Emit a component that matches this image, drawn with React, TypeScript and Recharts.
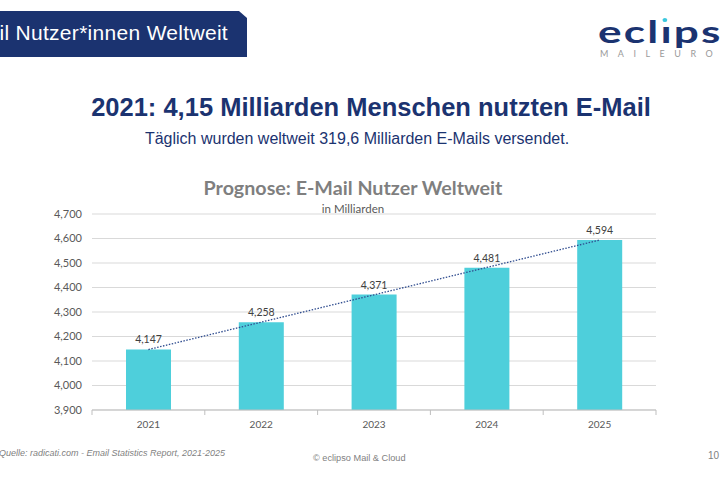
import React from 'react'
import {
  ComposedChart, Bar, Line, XAxis, YAxis, CartesianGrid, LabelList,
} from 'recharts'

const years = ['2021', '2022', '2023', '2024', '2025']
const users = [4147, 4258, 4371, 4481, 4594]
const yTicks = [3900, 4000, 4100, 4200, 4300, 4400, 4500, 4600, 4700]

// linear trend like Excel's trendline
const n = users.length
const meanX = (n - 1) / 2
const meanY = users.reduce((a, b) => a + b, 0) / n
const slope =
  users.reduce((s, v, i) => s + (i - meanX) * (v - meanY), 0) /
  users.reduce((s, _, i) => s + (i - meanX) ** 2, 0)

const data = years.map((year, i) => ({
  year,
  users: users[i],
  trend: meanY + slope * (i - meanX),
}))

const NAVY = '#1b3370'
const fmt = (v: number) => Number(v).toLocaleString('en-US')

const BandTick = (props: any) => {
  const { x, y, payload, index } = props
  const off = payload.offset || 0
  return (
    <g>
      <line x1={x - off} x2={x - off} y1={y - 8} y2={y - 3} stroke="#bfbfbf" />
      {index === years.length - 1 && (
        <line x1={x + off} x2={x + off} y1={y - 8} y2={y - 3} stroke="#bfbfbf" />
      )}
      <text x={x} y={y + 10} textAnchor="middle" fontSize={10} fill="#595959"
        fontFamily="Lato, sans-serif">
        {payload.value}
      </text>
    </g>
  )
}

export default function App() {
  return (
    <div style={{
      position: 'absolute', left: 0, top: 0, width: 720, height: 480,
      background: '#fff', overflow: 'hidden', fontFamily: '"Liberation Sans", Arial, sans-serif',
    }}>
      {/* header banner */}
      <div style={{
        position: 'absolute', left: 0, top: 11, width: 247, height: 46,
        background: NAVY, overflow: 'hidden',
        clipPath: 'polygon(0 0, 239px 0, 247px 7px, 247px 46px, 0 46px)',
      }}>
        <span style={{
          position: 'absolute', right: 19, top: 10, color: '#fff', fontSize: 21,
          letterSpacing: 0.3, whiteSpace: 'nowrap', lineHeight: '24px',
        }}>E-Mail Nutzer*innen Weltweit</span>
      </div>

      {/* logo */}
      <div style={{
        position: 'absolute', left: 598, top: 13, color: NAVY, fontSize: 30,
        fontFamily: 'Lato, sans-serif', fontWeight: 700, whiteSpace: 'nowrap',
        letterSpacing: 1.5, lineHeight: '36px',
        transform: 'scaleX(1.47)', transformOrigin: 'left top',
      }}>
        ecl<span style={{ position: 'relative' }}>ı<span style={{
          position: 'absolute', left: 2, top: 5, width: 3, height: 4,
          borderRadius: 2, background: '#3cc8de',
        }} /></span>pso
      </div>
      <div style={{
        position: 'absolute', left: 600, top: 48, color: '#9a9a9a', fontSize: 9,
        letterSpacing: 9.5, whiteSpace: 'nowrap', fontFamily: 'Lato, sans-serif',
        lineHeight: '11px',
      }}>
        MAILEURO
      </div>

      {/* titles */}
      <div style={{
        position: 'absolute', left: 0, width: 742, top: 93, textAlign: 'center',
        color: NAVY, fontSize: 25.5, fontWeight: 700, whiteSpace: 'nowrap',
      }}>
        2021: 4,15 Milliarden Menschen nutzten E-Mail
      </div>
      <div style={{
        position: 'absolute', left: 0, width: 714, top: 130, textAlign: 'center',
        color: NAVY, fontSize: 16, whiteSpace: 'nowrap',
      }}>
        Täglich wurden weltweit 319,6 Milliarden E-Mails versendet.
      </div>

      {/* chart */}
      <div style={{ position: 'absolute', left: 0, top: 0 }}>
        <ComposedChart
          width={720}
          height={480}
          data={data}
          margin={{ top: 214, right: 64, bottom: 40, left: 32 }}
        >
          <CartesianGrid vertical={false} stroke="#d9d9d9" />
          <XAxis
            dataKey="year"
            height={30}
            axisLine={{ stroke: '#bfbfbf' }}
            tickLine={false}
            tick={<BandTick />}
          />
          <YAxis
            width={60}
            domain={[3900, 4700]}
            ticks={yTicks}
            tickFormatter={fmt}
            axisLine={false}
            tickLine={false}
            tick={{ fontSize: 11, fill: '#595959', fontFamily: 'Lato, sans-serif', dx: -2 }}
          />
          <Bar dataKey="users" fill="#4ecfdb" barSize={45} isAnimationActive={false}>
            <LabelList
              dataKey="users"
              position="top"
              offset={6}
              formatter={(v: any) => fmt(v)}
              style={{ fontSize: 10.5, fill: '#404040', fontFamily: 'Lato, sans-serif' }}
            />
          </Bar>
          <Line
            dataKey="trend"
            stroke="#2f4c8f"
            strokeWidth={1.3}
            strokeDasharray="1.5 1.5"
            dot={false}
            activeDot={false}
            isAnimationActive={false}
          />
        </ComposedChart>
      </div>

      <div style={{
        position: 'absolute', left: 0, width: 706, top: 176, textAlign: 'center',
        color: '#7f7f7f', fontSize: 19.7, fontWeight: 700, fontFamily: 'Lato, sans-serif',
      }}>
        Prognose: E-Mail Nutzer Weltweit
      </div>
      <div style={{
        position: 'absolute', left: 0, width: 706, top: 202, textAlign: 'center',
        color: '#595959', fontSize: 11.5, fontFamily: 'Lato, sans-serif',
      }}>
        in Milliarden
      </div>

      {/* footer */}
      <div style={{
        position: 'absolute', left: -1, top: 448, color: '#7f7f7f', fontSize: 9,
        fontStyle: 'italic', whiteSpace: 'nowrap',
      }}>
        Quelle: radicati.com - Email Statistics Report, 2021-2025
      </div>
      <div style={{
        position: 'absolute', left: 313, top: 453, color: '#7f7f7f', fontSize: 9.2,
        whiteSpace: 'nowrap',
      }}>
        © eclipso Mail &amp; Cloud
      </div>
      <div style={{
        position: 'absolute', left: 708, top: 450, color: '#7f7f7f', fontSize: 10,
      }}>
        10
      </div>
    </div>
  )
}
